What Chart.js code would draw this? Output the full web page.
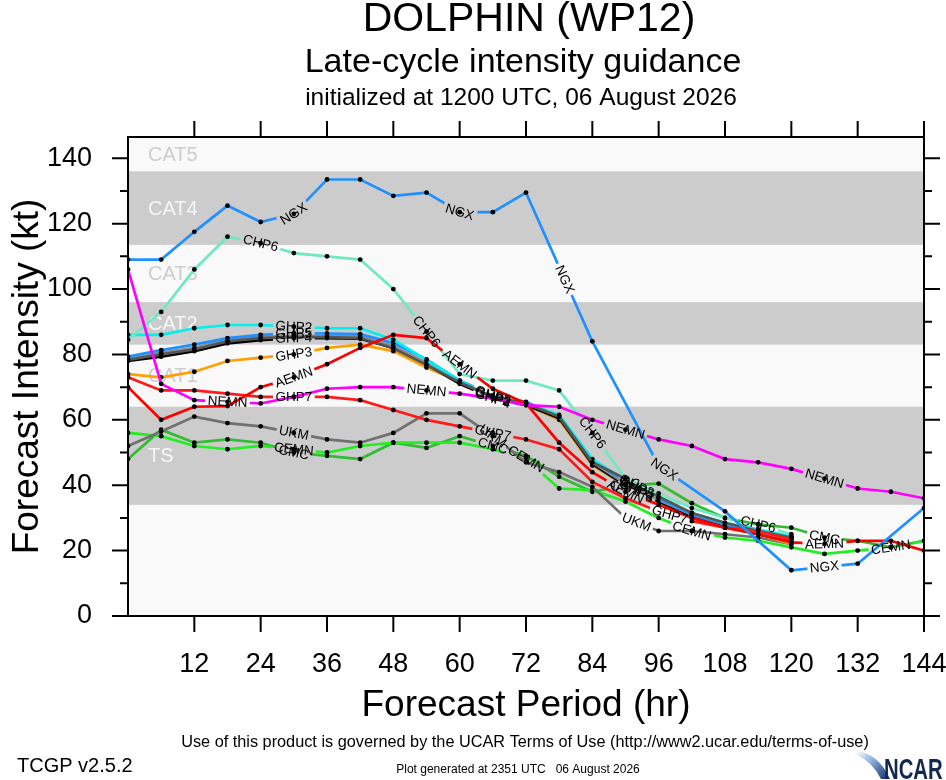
<!DOCTYPE html>
<html>
<head>
<meta charset="utf-8">
<title>DOLPHIN (WP12) late-cycle intensity guidance</title>
<script src="https://cdn.jsdelivr.net/npm/chart.js@4.4.1/dist/chart.umd.min.js"></script>
<style>
  html, body { margin: 0; padding: 0; background: #fff; }
  #wrap { width: 946px; height: 780px; position: relative; }
</style>
</head>
<body>
<div id="wrap"><canvas id="intensityChart"></canvas></div>
<script>
// forecast hours and axis ticks
const hours = [0, 6, 12, 18, 24, 30, 36, 42, 48, 54, 60, 66, 72, 78, 84, 90, 96, 102, 108, 114, 120, 126, 132, 138, 144];
const hourTicks = [12, 24, 36, 48, 60, 72, 84, 96, 108, 120, 132, 144];
const intensityTicks = [0, 20, 40, 60, 80, 100, 120, 140];
const minorIntensityTicks = [10, 30, 50, 70, 90, 110, 130];

// intensity categories (kt)
const bandNames = ["TS", "CAT1", "CAT2", "CAT3", "CAT4", "CAT5"];
const bandLow = [34, 64, 83, 96, 113.5, 136];
const bandHigh = [64, 83, 96, 113.5, 136, 146.5];

// model forecasts (kt), one value every 6 h, null where a model has no value
const ngx  = [109, 109, 117.5, 125.5, 120.5, 123, 133.5, 133.5, 128.5, 129.5, 123.5, 123.5, 129.5, null, 84, null, 46, null, 32, null, 14, null, 16, null, 33];
const nemn = [106, 71, 66, 65.5, 65, 67, 69.5, 70, 70, 69, 68, 66.5, 64.5, 64, 60, 57, 54, 52, 48, 47, 45, 42, 39, 38, 36];
const aemn = [70, 60, 64, 64.2, 70, 73, 77, 82, 86, 85, 77, 69.5, 65, 53, 44, 38, 34, 30, 27, 25, 22.5, 22, 23, 23, 20];
const ghp7 = [73, 69, 69, 68, 67, 67, 67, 66, 63, 60, 58, 56, 54, 51, 41, 36, 32, 29, 27, 26, 23.4, null, null, null, null];
const chp6 = [84.5, 93, 106, 116, 114, 111, 110, 109, 100, 87, 74, 72, 72, 69, 56, 42, 37.5, 33, 30, 28, 25, null, null, null, null];
const ghp6 = [78.3, 80, 81.5, 84, 85, 85.3, 85.3, 85, 81.9, 76.8, 71.5, 67, 65, 61, 47, 42, 36.5, 31.5, 28.5, 26, 24, null, null, null, null];
const ghp2 = [86, 86, 88, 89, 89, 88.5, 88, 88, 84.5, 78.3, 72, 67, 65, 61.5, 48, 41.5, 36.5, 31.5, 28.5, 26.5, 24.3, null, null, null, null];
const ghp5 = [79.3, 81.3, 83, 85, 86, 86.5, 86.4, 86.2, 83.5, 78.5, 72, 67.5, 65.5, 61, 47.5, 41, 36, 31, 28, 26, 24, null, null, null, null];
const ghp1 = [78.6, 80.6, 82, 84.4, 85.4, 85.7, 85.6, 85.5, 82.6, 77.5, 71.5, 67, 65, 61, 47, 40.5, 35.5, 31, 28, 25.5, 23.4, null, null, null, null];
const ghp4 = [78, 79.3, 81, 83.4, 84.4, 85, 85, 84.8, 82, 77, 71, 66.5, 64.5, 60.5, 46.5, 40, 35, 30.5, 27.5, 25, 22.7, null, null, null, null];
const ghp3 = [74, 73, 74.7, 78, 79, 80, 82, 83, 81, 76, 71.7, 67, 64.5, 60, 46, 40, 35, 30, 27, 25, 22, null, null, null, null];
const ukm  = [52, 56.4, 61, 59, 58, 56, 54, 53, 56, 62, 62, 55, 47, 44, 39.5, 30, 26, 26, 25, 24, 22, null, null, null, null];
const cemn = [56, 55, 52, 51, 52, 51, 50, 52, 53, 53, 53, 51, 48, 39, 38.5, 35, 30, 26, 24, 23, 21, 19, 20, 21, 23];
const cmc  = [48, 57, 53, 54, 53, 50, 49, 48, 53, 51.4, 55, 52, 49, 42.6, 38, 40, 40.5, 34.5, 30, 28, 27, 24, 23, 21, 23];

const FONT = "'Liberation Sans', Arial, Helvetica, sans-serif";

// first in list is drawn on top; labelAt = forecast hours where the name is written
const models = [
  { name: "NGX",  values: ngx,  color: "#1e90ff", labelAt: [30, 60, 79, 97, 126] },
  { name: "NEMN", values: nemn, color: "#ff00ff", labelAt: [18, 54, 90, 126] },
  { name: "AEMN", values: aemn, color: "#ff0000", labelAt: [30, 60, 90, 126] },
  { name: "GHP7", values: ghp7, color: "#ff1a1a", labelAt: [30, 66, 98] },
  { name: "CHP6", values: chp6, color: "#70e8c4", labelAt: [24, 54, 84, 114] },
  { name: "GHP6", values: ghp6, color: "#555555", labelAt: [] },
  { name: "GHP2", values: ghp2, color: "#00f0f0", labelAt: [30, 66, 92] },
  { name: "GHP5", values: ghp5, color: "#1e90ff", labelAt: [30, 66, 92] },
  { name: "GHP1", values: ghp1, color: "#8c8c8c", labelAt: [] },
  { name: "GHP4", values: ghp4, color: "#000000", labelAt: [30, 66, 92] },
  { name: "GHP3", values: ghp3, color: "#ffa000", labelAt: [30, 66, 92] },
  { name: "UKM",  values: ukm,  color: "#707070", labelAt: [30, 66, 92] },
  { name: "CEMN", values: cemn, color: "#22ee22", labelAt: [30, 72, 102, 138] },
  { name: "CMC",  values: cmc,  color: "#33bb33", labelAt: [30, 66, 90, 126] }
];

// where each model name sits along its line
function labelBoxes(chart, meta, ds) {
  const ctx = chart.ctx;
  ctx.font = "13.5px " + FONT;
  const pts = meta.data;
  const valid = pts.map((p, i) => i).filter(i => !pts[i].skip);
  const w = ctx.measureText(ds.label).width + 5;
  return ds.labelAt.map(h => {
    const k = valid.findIndex(i => hours[i] >= h);
    if (k < 0) return null;
    const i = valid[k];
    let a, b, x, y, at = null;
    if (hours[i] === h) {
      a = pts[valid[Math.max(k - 1, 0)]];
      b = pts[valid[Math.min(k + 1, valid.length - 1)]];
      x = pts[i].x; y = pts[i].y; at = i;
    } else {
      if (k === 0) return null;
      a = pts[valid[k - 1]]; b = pts[i];
      const t = (h - hours[valid[k - 1]]) / (hours[i] - hours[valid[k - 1]]);
      x = a.x + t * (b.x - a.x); y = a.y + t * (b.y - a.y);
    }
    return { at: at, x: x, y: y, ang: Math.atan2(b.y - a.y, b.x - a.x), w: w, h: 13 };
  }).filter(Boolean);
}

const lineLabels = {
  id: "lineLabels",
  beforeDatasetDraw(chart, args) {
    const ds = chart.data.datasets[args.index];
    if (!ds.labelAt || !ds.labelAt.length) return;
    const boxes = labelBoxes(chart, args.meta, ds);
    args.meta.$boxes = boxes;
    const ctx = chart.ctx;
    ctx.save();
    ctx.beginPath();
    ctx.rect(0, 0, chart.width, chart.height);
    boxes.forEach(bx => {
      const c = Math.cos(bx.ang), s = Math.sin(bx.ang);
      const corners = [[-bx.w / 2, -bx.h / 2], [bx.w / 2, -bx.h / 2], [bx.w / 2, bx.h / 2], [-bx.w / 2, bx.h / 2]];
      corners.forEach((p, k) => {
        const px = bx.x + p[0] * c - p[1] * s;
        const py = bx.y + p[0] * s + p[1] * c;
        if (k === 0) ctx.moveTo(px, py); else ctx.lineTo(px, py);
      });
      ctx.closePath();
    });
    ctx.clip("evenodd");
  },
  afterDatasetDraw(chart, args) {
    const boxes = args.meta.$boxes;
    if (!boxes) return;
    chart.ctx.restore();
    boxes.forEach(bx => {
      if (bx.at !== null) args.meta.data[bx.at].draw(chart.ctx, chart.chartArea);
    });
  },
  afterDatasetsDraw(chart) {
    const ctx = chart.ctx;
    ctx.save();
    ctx.font = "13.5px " + FONT;
    ctx.fillStyle = "#000";
    ctx.textAlign = "center";
    ctx.textBaseline = "middle";
    chart.data.datasets.forEach((ds, d) => {
      const meta = chart.getDatasetMeta(d);
      (meta.$boxes || []).forEach(bx => {
        ctx.save();
        ctx.translate(bx.x, bx.y);
        ctx.rotate(bx.ang);
        ctx.fillText(ds.label, 0, 0.5);
        ctx.restore();
      });
    });
    ctx.restore();
  }
};

// category bands behind the lines
const bands = {
  id: "bands",
  beforeDatasetsDraw(chart) {
    const { ctx, chartArea: a, scales: { y } } = chart;
    ctx.save();
    ctx.fillStyle = "#f9f9f9";
    ctx.fillRect(a.left, a.top, a.right - a.left, a.bottom - a.top);
    ctx.font = "20px " + FONT;
    ctx.textBaseline = "middle";
    bandNames.forEach((name, i) => {
      const top = y.getPixelForValue(bandHigh[i]);
      const bot = y.getPixelForValue(bandLow[i]);
      const grey = i % 2 === 0;
      if (grey) {
        ctx.fillStyle = "#cccccc";
        ctx.fillRect(a.left, top, a.right - a.left, bot - top);
      }
      ctx.fillStyle = grey ? "#f6f6f6" : "#cdcdcd";
      ctx.fillText(name, a.left + 20, (top + bot) / 2 + 1);
    });
    ctx.restore();
  }
};

function drawNcarMark(ctx) {
  const g = ctx.createLinearGradient(858, 750, 888, 779);
  g.addColorStop(0, "#ffffff");
  g.addColorStop(0.4, "#8fb2e0");
  g.addColorStop(1, "#14306a");
  ctx.fillStyle = g;
  ctx.beginPath();
  ctx.moveTo(856, 751);
  ctx.quadraticCurveTo(878, 753, 890, 779);
  ctx.lineTo(881, 779);
  ctx.quadraticCurveTo(872, 761, 856, 755);
  ctx.closePath();
  ctx.fill();
  ctx.fillStyle = "#13284f";
  ctx.save();
  ctx.translate(884, 779);
  ctx.scale(0.7, 1);
  ctx.textAlign = "left";
  ctx.textBaseline = "alphabetic";
  ctx.font = "bold 29px " + FONT;
  ctx.fillText("NCAR", 0, 0);
  ctx.restore();
}

// frame, tick marks, titles and footer
const frame = {
  id: "frame",
  afterDraw(chart) {
    const { ctx, chartArea: a, scales: { x, y } } = chart;
    ctx.save();
    ctx.strokeStyle = "#000";
    ctx.lineWidth = 2;
    ctx.strokeRect(a.left, a.top, a.right - a.left, a.bottom - a.top);
    ctx.beginPath();
    intensityTicks.forEach(v => {
      const py = y.getPixelForValue(v);
      ctx.moveTo(a.left - 16, py); ctx.lineTo(a.left, py);
      ctx.moveTo(a.right, py); ctx.lineTo(a.right + 16, py);
    });
    minorIntensityTicks.forEach(v => {
      const py = y.getPixelForValue(v);
      ctx.moveTo(a.left - 8, py); ctx.lineTo(a.left, py);
      ctx.moveTo(a.right, py); ctx.lineTo(a.right + 8, py);
    });
    hourTicks.forEach(h => {
      const px = x.getPixelForValue(h);
      ctx.moveTo(px, a.bottom); ctx.lineTo(px, a.bottom + 16);
      ctx.moveTo(px, a.top); ctx.lineTo(px, a.top - 16);
    });
    ctx.stroke();

    ctx.fillStyle = "#000";
    ctx.textAlign = "center";
    ctx.textBaseline = "middle";
    ctx.font = "41px " + FONT;
    ctx.fillText("DOLPHIN (WP12)", 529, 20);
    ctx.font = "34px " + FONT;
    ctx.fillText("Late-cycle intensity guidance", 523, 63);
    ctx.font = "24.5px " + FONT;
    ctx.fillText("initialized at 1200 UTC, 06 August 2026", 521, 98);

    ctx.font = "16.3px " + FONT;
    ctx.fillText("Use of this product is governed by the UCAR Terms of Use (http://www2.ucar.edu/terms-of-use)", 525, 743);
    ctx.font = "12px " + FONT;
    ctx.fillText("Plot generated at 2351 UTC   06 August 2026", 518, 770);
    ctx.textAlign = "left";
    ctx.font = "20px " + FONT;
    ctx.fillText("TCGP v2.5.2", 17, 766);

    drawNcarMark(ctx);
    ctx.restore();
  }
};

const chart = new Chart(document.getElementById("intensityChart"), {
  type: "line",
  data: {
    datasets: models.map(m => ({
      label: m.name,
      labelAt: m.labelAt,
      data: hours.map((h, i) => ({ x: h, y: m.values[i] })),
      borderColor: m.color,
      borderWidth: 2.7,
      pointRadius: 2.4,
      pointHoverRadius: 2.4,
      pointBackgroundColor: "#000",
      pointBorderWidth: 0,
      tension: 0,
      spanGaps: true
    }))
  },
  options: {
    responsive: true,
    maintainAspectRatio: false,
    animation: false,
    events: [],
    layout: { padding: { left: 0, right: 22, top: 137, bottom: 52 } },
    plugins: { legend: { display: false }, tooltip: { enabled: false }, title: { display: false } },
    scales: {
      x: {
        type: "linear",
        min: 0,
        max: 144,
        afterBuildTicks: s => { s.ticks = hourTicks.map(v => ({ value: v })); },
        afterFit: s => { s.height = 112; s.paddingLeft = 0; s.paddingRight = 0; },
        grid: { display: false, drawTicks: false },
        border: { display: false },
        ticks: { padding: 32, maxRotation: 0, autoSkip: false, color: "#000", font: { family: FONT, size: 27 } },
        title: { display: true, text: "Forecast Period (hr)", color: "#000", font: { family: FONT, size: 37 }, padding: 0 }
      },
      y: {
        type: "linear",
        min: 0,
        max: 146.5,
        afterBuildTicks: s => { s.ticks = intensityTicks.map(v => ({ value: v })); },
        afterFit: s => { s.width = 128; s.paddingTop = 0; s.paddingBottom = 0; },
        grid: { display: false, drawTicks: false },
        border: { display: false },
        ticks: { padding: 36, color: "#000", font: { family: FONT, size: 27 } },
        title: { display: true, text: "Forecast Intensity (kt)", color: "#000", font: { family: FONT, size: 37 }, padding: { top: 6, bottom: 0 } }
      }
    }
  },
  plugins: [bands, lineLabels, frame]
});
</script>
</body>
</html>
